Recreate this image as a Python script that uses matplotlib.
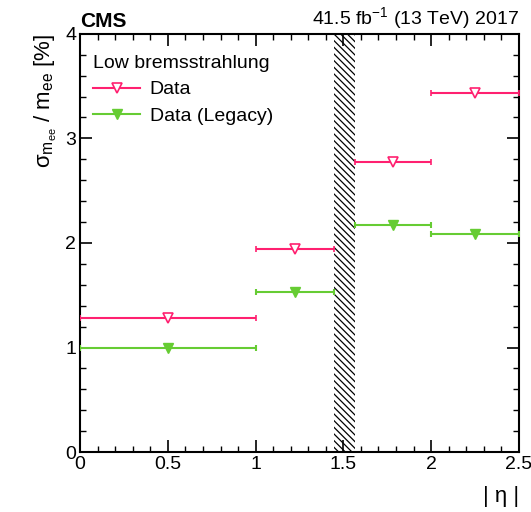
import numpy as np
import matplotlib
matplotlib.use("Agg")
import matplotlib.pyplot as plt
from matplotlib.ticker import MultipleLocator
from matplotlib.lines import Line2D

plt.rcParams['font.family'] = ['Liberation Sans', 'DejaVu Sans']
plt.rcParams['mathtext.fontset'] = 'custom'
plt.rcParams['mathtext.rm'] = 'Liberation Sans'
plt.rcParams['mathtext.it'] = 'Liberation Sans:italic'
plt.rcParams['hatch.linewidth'] = 0.9

# bins in |eta|
bin_lo = [0.0, 1.0, 1.566, 2.0]
bin_hi = [1.0, 1.4442, 2.0, 2.5]
x_pts = [0.5, 1.222, 1.783, 2.25]
res_data = [1.28, 1.94, 2.77, 3.43]
res_legacy = [1.00, 1.53, 2.17, 2.09]
gap_lo, gap_hi = 1.4442, 1.566

pink = '#ff2070'
green = '#66cc33'


def xerr(xs):
    xs = np.array(xs)
    return [xs - np.array(bin_lo), np.array(bin_hi) - xs]


fig = plt.figure(figsize=(5.31, 5.12), dpi=100)
ax = fig.add_axes([0.151, 0.117, 0.826, 0.817])

ax.fill_between([gap_lo, gap_hi], 0, 4, facecolor='white', edgecolor='black',
                hatch='\\\\\\\\\\', linewidth=0, zorder=1)

ax.errorbar(x_pts, res_data, xerr=xerr(x_pts), fmt='v', color=pink, mfc='white',
            mec=pink, ms=7, mew=1.2, elinewidth=1.5, capsize=2, capthick=1.5, zorder=3)
ax.errorbar(x_pts, res_legacy, xerr=xerr(x_pts), fmt='v', color=green, mfc=green,
            mec=green, ms=7, elinewidth=1.5, capsize=2, capthick=1.5, zorder=3)

ax.set_xlim(0, 2.5)
ax.set_ylim(0, 4)
ax.xaxis.set_major_locator(MultipleLocator(0.5))
ax.xaxis.set_minor_locator(MultipleLocator(0.1))
ax.yaxis.set_major_locator(MultipleLocator(1))
ax.yaxis.set_minor_locator(MultipleLocator(0.2))
ax.tick_params(which='both', direction='in', top=True, right=True, labelsize=14, pad=3)
ax.tick_params(which='major', length=8.6, width=1.2)
ax.tick_params(which='minor', length=4.3, width=1)
ax.set_xticks([0, 0.5, 1, 1.5, 2, 2.5])
ax.set_xticklabels(['0', '0.5', '1', '1.5', '2', '2.5'])
for s in ax.spines.values():
    s.set_linewidth(1.5)

ax.set_ylabel(r'σ$_{\mathrm{m_{ee}}}$ / m$_{\mathrm{ee}}$ [%]', fontsize=16, loc='top')
ax.set_xlabel('| η |', fontsize=16, loc='right', labelpad=9)

handles = [
    Line2D([], [], color=pink, lw=1.5, marker='v', ms=7, mfc='white', mec=pink, mew=1.2),
    Line2D([], [], color=green, lw=1.5, marker='v', ms=7, mfc=green, mec=green),
]
leg = ax.legend(handles, ['Data', 'Data (Legacy)'], title='Low bremsstrahlung',
                loc='upper left', bbox_to_anchor=(0.012, 0.967), frameon=False,
                fontsize=14, title_fontsize=14, handlelength=2.4, borderaxespad=0,
                handletextpad=0.5, labelspacing=0.45)
leg._legend_box.align = 'left'
leg._legend_box.sep = 6

fig.text(0.151, 0.94, 'CMS', fontsize=15, fontweight='bold', ha='left', va='bottom')
fig.text(0.977, 0.94, r'41.5 fb$^{-1}$ (13 TeV) 2017', fontsize=14, ha='right', va='bottom')

fig.savefig('out.png', dpi=100)
